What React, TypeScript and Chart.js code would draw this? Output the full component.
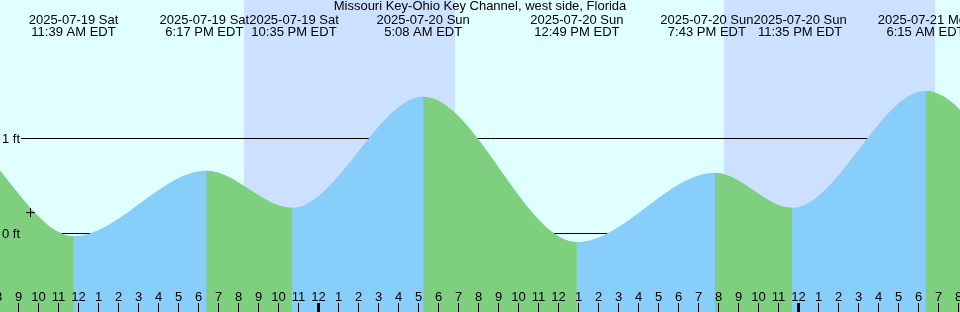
import React, { useEffect, useRef } from 'react';
import { Chart, registerables } from 'chart.js';

Chart.register(...registerables);

const TITLE = 'Missouri Key-Ohio Key Channel, west side, Florida';

// Tide extremes (local EDT) and heights in feet
const tideTimes = [
  '2025-07-18 22:40',
  '2025-07-19 05:15',
  '2025-07-19 11:39',
  '2025-07-19 18:17',
  '2025-07-19 22:35',
  '2025-07-20 05:08',
  '2025-07-20 12:49',
  '2025-07-20 19:43',
  '2025-07-20 23:35',
  '2025-07-21 06:15',
  '2025-07-21 12:40',
];
const tideHeights = [0.25, 1.1, -0.03, 0.66, 0.27, 1.44, -0.09, 0.64, 0.27, 1.5, -0.1];

// Labelled events at the top
const eventTimes = [
  '2025-07-19 11:39',
  '2025-07-19 18:17',
  '2025-07-19 22:35',
  '2025-07-20 05:08',
  '2025-07-20 12:49',
  '2025-07-20 19:43',
  '2025-07-20 23:35',
  '2025-07-21 06:15',
];
const eventDates = [
  '2025-07-19 Sat',
  '2025-07-19 Sat',
  '2025-07-19 Sat',
  '2025-07-20 Sun',
  '2025-07-20 Sun',
  '2025-07-20 Sun',
  '2025-07-20 Sun',
  '2025-07-21 Mon',
];
const eventClock = [
  '11:39 AM EDT',
  '6:17 PM EDT',
  '10:35 PM EDT',
  '5:08 AM EDT',
  '12:49 PM EDT',
  '7:43 PM EDT',
  '11:35 PM EDT',
  '6:15 AM EDT',
];

// Night (sunset -> sunrise)
const nightStart = ['2025-07-19 20:11', '2025-07-20 20:10'];
const nightEnd = ['2025-07-20 06:44', '2025-07-21 06:44'];

// Horizontal reference levels
const levelFeet = [0, 1];
const levelLabels = ['0 ft', '1 ft'];

// "+" mark
const markTimes = ['2025-07-19 09:30'];
const markHeights = [0.22];

// Hour ticks (hours relative to 2025-07-20 00:00)
const hourTicks: number[] = [];
for (let h = -16; h <= 32; h++) hourTicks.push(h);

const toHours = (s: string) => {
  const [d, t] = s.split(' ');
  const day = parseInt(d.slice(8, 10), 10);
  const [hh, mm] = t.split(':').map(Number);
  return (day - 20) * 24 + hh + mm / 60;
};

const BG_DAY = '#e0ffff';
const BG_NIGHT = '#cce0ff';
const FALL = '#7ecf7e';
const RISE = '#87cefa';
const FONT = '13px "Liberation Sans", Arial, sans-serif';

const decorPlugin = {
  id: 'tideDecor',
  beforeDraw(chart: any) {
    const { ctx, width, height } = chart;
    const xs = chart.scales.x;
    const ys = chart.scales.y;
    ctx.save();
    ctx.fillStyle = BG_DAY;
    ctx.fillRect(0, 0, width, height);
    ctx.fillStyle = BG_NIGHT;
    nightStart.forEach((s, i) => {
      const x1 = Math.round(xs.getPixelForValue(toHours(s)));
      const x2 = Math.round(xs.getPixelForValue(toHours(nightEnd[i])));
      ctx.fillRect(x1, 0, x2 - x1, height);
    });
    ctx.strokeStyle = '#000';
    ctx.lineWidth = 1;
    levelFeet.forEach((v) => {
      const y = Math.floor(ys.getPixelForValue(v)) + 0.5;
      ctx.beginPath();
      ctx.moveTo(21, y);
      ctx.lineTo(width, y);
      ctx.stroke();
    });
    ctx.restore();
  },
  afterDraw(chart: any) {
    const { ctx, width, height } = chart;
    const xs = chart.scales.x;
    const ys = chart.scales.y;
    ctx.save();
    ctx.fillStyle = '#000';
    ctx.font = FONT;
    // level labels
    ctx.textBaseline = 'middle';
    ctx.textAlign = 'left';
    levelFeet.forEach((v, i) => {
      const y = Math.floor(ys.getPixelForValue(v)) + 0.5;
      ctx.fillText(levelLabels[i], 2, y + 0.5);
    });
    ctx.textBaseline = 'alphabetic';
    ctx.textAlign = 'center';
    // title
    ctx.fillText(TITLE, width / 2, 10);
    // event labels with overlap push
    const centers = eventTimes.map((t) => xs.getPixelForValue(toHours(t)));
    const widths = eventDates.map((d, i) =>
      Math.max(ctx.measureText(d).width, ctx.measureText(eventClock[i]).width)
    );
    for (let i = 1; i < centers.length; i++) {
      const overlap = (widths[i - 1] + widths[i]) / 2 - (centers[i] - centers[i - 1]);
      if (overlap > 0) {
        centers[i - 1] -= overlap / 2;
        centers[i] += overlap / 2;
      }
    }
    centers.forEach((cx, i) => {
      ctx.fillText(eventDates[i], cx, 24);
      ctx.fillText(eventClock[i], cx, 36);
    });
    // hour ticks and labels
    hourTicks.forEach((h) => {
      const x = xs.getPixelForValue(h) - 2;
      const hr = ((h % 24) + 24) % 24;
      const w = hr === 0 ? 3 : 1;
      ctx.fillRect(Math.round(x - w / 2), 303, w, height - 303);
      const lbl = String(hr % 12 === 0 ? 12 : hr % 12);
      ctx.fillText(lbl, x, 301);
    });
    ctx.restore();
  },
};

export default function App() {
  const ref = useRef<HTMLCanvasElement>(null);
  useEffect(() => {
    document.body.style.margin = '0';
    const canvas = ref.current;
    if (!canvas) return;
    const tideData = tideTimes.map((t, i) => ({ x: toHours(t), y: tideHeights[i] }));
    const markData = markTimes.map((t, i) => ({ x: toHours(t), y: markHeights[i] }));
    const chart = new Chart(canvas, {
      type: 'line',
      data: {
        datasets: [
          {
            type: 'scatter',
            data: markData,
            pointStyle: 'cross',
            pointRadius: 4.5,
            borderColor: '#000',
            borderWidth: 1,
            showLine: false,
            order: 0,
          } as any,
          {
            // falling tide overlay (green), transparent where rising
            data: tideData,
            fill: 'start',
            backgroundColor: FALL,
            borderColor: 'rgba(0,0,0,0)',
            borderWidth: 0,
            pointRadius: 0,
            cubicInterpolationMode: 'monotone',
            order: 1,
            segment: {
              backgroundColor: (c: any) =>
                c.p1.parsed.y < c.p0.parsed.y ? FALL : 'rgba(0,0,0,0)',
            },
          } as any,
          {
            // full tide area (blue, rising colour)
            data: tideData,
            fill: 'start',
            backgroundColor: RISE,
            borderColor: 'rgba(0,0,0,0)',
            borderWidth: 0,
            pointRadius: 0,
            cubicInterpolationMode: 'monotone',
            order: 2,
          } as any,
        ],
      },
      options: {
        responsive: false,
        animation: false,
        devicePixelRatio: 1,
        layout: { padding: 0, autoPadding: false },
        scales: {
          x: { type: 'linear', display: false, min: -16.025, max: 31.975 },
          y: { type: 'linear', display: false, min: -0.8263, max: 2.4579 },
        },
        plugins: {
          legend: { display: false },
          tooltip: { enabled: false },
        },
        events: [],
      },
      plugins: [decorPlugin],
    });
    return () => chart.destroy();
  }, []);
  return <canvas ref={ref} width={960} height={312} style={{ display: 'block' }} />;
}
